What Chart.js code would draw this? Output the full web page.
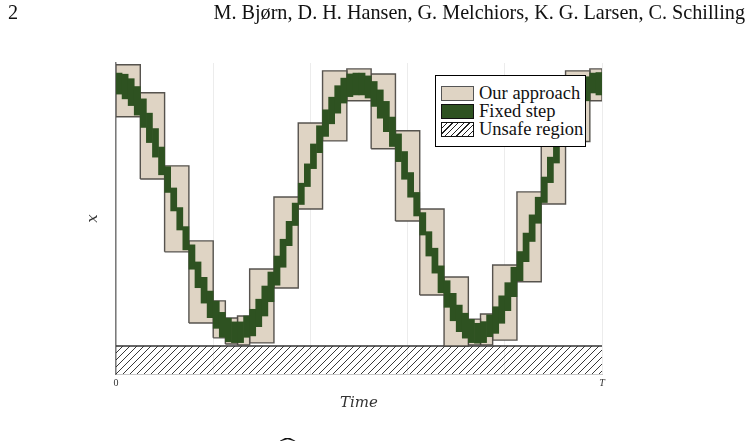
<!DOCTYPE html>
<html>
<head>
<meta charset="utf-8">
<script src="https://cdn.jsdelivr.net/npm/chart.js@4.4.1/dist/chart.umd.min.js"></script>
<style>
  body { margin: 0; background: #fff; }
  #page { position: relative; width: 749px; height: 444px; font-family: "Liberation Serif", serif; color: #111; }
  #page canvas { position: absolute; left: 0; top: 0; }
  .hdr { position: absolute; top: 1px; font-size: 20.2px; white-space: nowrap; }
  #legend { position: absolute; left: 435px; top: 75px; width: 151px; height: 72px; border: 1px solid #000; background: #fff; box-sizing: border-box; }
  .item { position: absolute; left: 5px; height: 15px; font-size: 18.5px; line-height: 15px; white-space: nowrap; }
  .sw { position: absolute; left: 0; top: 0; width: 31px; height: 13px; border: 1.5px solid #111; }
  .item span { position: absolute; left: 38px; top: 0; }
</style>
</head>
<body>
<div id="page">
  <canvas id="chart" width="749" height="444"></canvas>
  <div class="hdr" style="left:8px">2</div>
  <div class="hdr" style="right:4px">M. Bjørn, D. H. Hansen, G. Melchiors, K. G. Larsen, C. Schilling</div>
  <div id="legend">
    <div class="item" style="top:10px"><div class="sw" style="background:#dfd4c4;border-color:#555"></div><span>Our approach</span></div>
    <div class="item" style="top:28px"><div class="sw" style="background:#2e5221"></div><span>Fixed step</span></div>
    <div class="item" style="top:46px"><div class="sw" style="background:repeating-linear-gradient(135deg,#fff 0,#fff 3px,#222 3px,#222 4px)"></div><span>Unsafe region</span></div>
  </div>
  <div style="position:absolute;left:284px;top:433px;font-size:22px;transform:scaleX(2.2)">ˆ</div>
</div>
<script>
// "Our approach" boxes, in time steps (T = 80) and x values
const boxStart = [0, 4, 8, 12, 16, 18, 20, 22, 26, 30, 34, 38, 42, 46, 50, 54, 58, 60, 62, 66, 70, 74, 78]
const boxEnd   = [4, 8, 12, 16, 18, 20, 22, 26, 30, 34, 38, 42, 46, 50, 54, 58, 60, 62, 66, 70, 74, 78, 80]
const boxLow   = [8.18, 5.96, 3.36, 0.82, 0.29, 0.07, 0.04, 0.11, 2.07, 4.89, 7.32, 8.75, 7.04, 4.46, 1.82, 0.00, 0.04, 0.04, 0.21, 2.29, 5.07, 7.30, 8.75]
const boxHigh  = [10.04, 9.04, 6.43, 3.75, 1.61, 1.00, 1.07, 2.75, 5.32, 7.96, 9.82, 9.89, 9.71, 7.68, 4.89, 2.46, 0.96, 1.14, 2.89, 5.50, 8.14, 9.82, 9.89]

// "Fixed step" reach sets, one per time step
const greenLow = [8.99, 8.82, 8.58, 8.24, 7.80, 7.26, 6.74, 6.11, 5.48, 4.82,
  4.14, 3.43, 2.74, 2.08, 1.53, 1.01, 0.63, 0.31, 0.15, 0.12,
  0.12, 0.31, 0.36, 0.69, 1.07, 1.58, 2.17, 2.81, 3.58, 4.30,
  5.05, 5.69, 6.33, 6.90, 7.48, 7.93, 8.31, 8.67, 8.90, 8.96,
  8.96, 8.85, 8.55, 8.13, 7.65, 7.12, 6.58, 5.95, 5.31, 4.64,
  3.96, 3.21, 2.60, 1.90, 1.38, 0.90, 0.51, 0.28, 0.12, 0.10,
  0.12, 0.33, 0.45, 0.81, 1.26, 1.76, 2.33, 3.01, 3.73, 4.38,
  5.12, 5.83, 6.53, 7.14, 7.71, 8.14, 8.50, 8.75, 9.03, 8.96]
const greenHigh = [9.74, 9.70, 9.54, 9.26, 8.82, 8.31, 7.76, 7.10, 6.40, 5.64,
  4.94, 4.26, 3.61, 3.00, 2.45, 1.96, 1.60, 1.20, 0.99, 0.86,
  0.86, 1.07, 1.31, 1.67, 2.14, 2.64, 3.21, 3.81, 4.45, 5.10,
  5.81, 6.50, 7.21, 7.86, 8.43, 8.88, 9.29, 9.56, 9.71, 9.74,
  9.74, 9.64, 9.44, 9.14, 8.73, 8.17, 7.57, 6.94, 6.19, 5.48,
  4.76, 4.08, 3.49, 2.86, 2.33, 1.88, 1.46, 1.17, 0.95, 0.81,
  0.87, 1.11, 1.40, 1.79, 2.26, 2.81, 3.37, 4.03, 4.68, 5.31,
  6.03, 6.74, 7.38, 8.04, 8.61, 9.04, 9.39, 9.61, 9.74, 9.76]

// unsafe region edge
const unsafeX = [0, 80]
const unsafeY = [0, 0]

const xTicks = {0: "0", 80: "T"}

const canvas = document.getElementById("chart")
const ctx = canvas.getContext("2d")

// diagonal hatch
function hatchPattern() {
    const c = document.createElement("canvas")
    c.width = 7
    c.height = 7
    const g = c.getContext("2d")
    g.strokeStyle = "#222"
    g.lineWidth = 0.9
    g.beginPath()
    g.moveTo(0, 7); g.lineTo(7, 0)
    g.moveTo(-1, 1); g.lineTo(1, -1)
    g.moveTo(6, 8); g.lineTo(8, 6)
    g.stroke()
    return ctx.createPattern(c, "repeat")
}

const boxSets = boxStart.map((s, i) => ({
    type: "line",
    data: [
        {x: s, y: boxLow[i]},
        {x: s, y: boxHigh[i]},
        {x: boxEnd[i], y: boxHigh[i]},
        {x: boxEnd[i], y: boxLow[i]},
        {x: s, y: boxLow[i]}
    ],
    fill: "shape",
    backgroundColor: "#dfd4c4",
    borderColor: "rgba(70,66,62,0.9)",
    borderWidth: 1.4,
    pointRadius: 0,
    order: 1
}))

new Chart(ctx, {
    type: "scatter",
    data: {
        datasets: [
            {
                type: "bar",
                data: greenLow.map((lo, i) => ({x: i + 0.5, y: [lo, greenHigh[i]]})),
                backgroundColor: "#2e5221",
                borderWidth: 0,
                barPercentage: 1,
                categoryPercentage: 1,
                order: 0
            },
            ...boxSets,
            {
                type: "line",
                data: unsafeX.map((x, i) => ({x: x, y: unsafeY[i]})),
                fill: "start",
                backgroundColor: hatchPattern(),
                borderColor: "#333",
                borderWidth: 1.6,
                pointRadius: 0,
                order: 2
            }
        ]
    },
    options: {
        responsive: false,
        animation: false,
        layout: {padding: {left: 80, right: 147, top: 63, bottom: 28}},
        plugins: {legend: {display: false}, tooltip: {enabled: false}},
        scales: {
            x: {
                type: "linear",
                min: 0,
                max: 80,
                offset: false,
                afterFit: (axis) => { axis.height = 42 },
                ticks: {
                    stepSize: 16,
                    padding: 3,
                    maxRotation: 0,
                    color: "#333",
                    font: (c) => ({family: "Liberation Serif", size: 10, style: c.tick && c.tick.value === 80 ? "italic" : "normal"}),
                    callback: (v) => xTicks[v] || ""
                },
                grid: {color: "#ececec", lineWidth: 1, drawTicks: false, offset: false},
                border: {color: "#c8c8c8", width: 1},
                title: {display: true, text: "Time", color: "#333", padding: {top: 4, bottom: 4},
                    font: {family: "DejaVu Serif", size: 15, style: "italic"}}
            },
            y: {
                min: -1,
                max: 10.1,
                afterFit: (axis) => { axis.width = 36 },
                ticks: {display: false},
                grid: {display: false},
                border: {color: "#7a7a7a", width: 1.5},
                title: {display: true, text: "x", color: "#333", padding: {top: 4, bottom: 4},
                    font: {family: "DejaVu Serif", size: 15, style: "italic"}}
            }
        }
    }
})
</script>
</body>
</html>
